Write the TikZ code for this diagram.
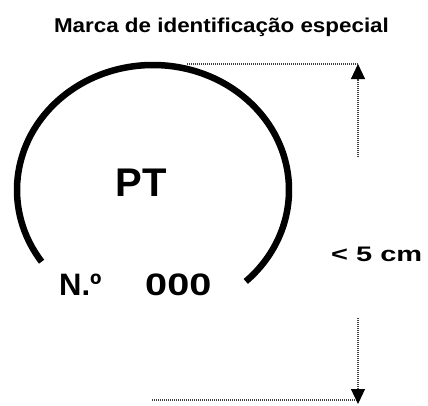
\documentclass[tikz,border=0pt]{standalone}
\usepackage{fontspec}
\setmainfont{Liberation Sans}
\newfontfamily\titlefont[FakeStretch=1.12]{Liberation Sans}
\newfontfamily\numfont[FakeStretch=1.28]{Liberation Sans}
\newfontfamily\dimfont[FakeStretch=1.38]{Liberation Sans}
\usetikzlibrary{arrows.meta}
\begin{document}
\begin{tikzpicture}[x=1pt,y=1pt,
  lbl/.style={inner sep=0pt, anchor=base},
  lblw/.style={inner sep=0pt, anchor=base west},
  ring/.style={line width=6.5pt, draw=black},
  dim/.style={line width=1.2pt, draw=black!75, dash pattern=on 1pt off 1pt},
  tipend/.style={-{Triangle[width=14pt,length=15pt,color=black]}}]
\useasboundingbox (0,0) rectangle (428,-405);
% title
\node[lbl, font=\titlefont\bfseries\fontsize{20}{22}\selectfont] (title) at (221.5,-32) {Marca de identificação especial};
% arc
\coordinate (ec) at (153,-190);
\draw[ring] (ec) ++(-47:136pt and 125pt) arc[start angle=-47, end angle=215, x radius=136pt, y radius=125pt];
% texts inside
\node[lbl, font=\bfseries\fontsize{40}{44}\selectfont] (pt) at (141,-196.7) {PT};
\node[lblw, font=\bfseries\fontsize{31}{34}\selectfont] (no) at (59,-295) {N.º};
\node[lblw, font=\numfont\bfseries\fontsize{31}{34}\selectfont] (num) at (145,-295) {000};
% dimension
\coordinate (topL) at (187,-64);
\coordinate (topR) at (358,-64);
\coordinate (upS) at (358,-157);
\coordinate (botS) at (358,-318);
\coordinate (botR) at (358,-400);
\coordinate (botTip) at (358,-404);
\coordinate (botL) at (152,-400);
\draw[dim] (topL) -- (topR);
\draw[dim, tipend] (upS) -- (topR);
\draw[dim] (botL) -- (botR);
\draw[dim, tipend] (botS) -- (botTip);
\node[lblw, font=\dimfont\bfseries\fontsize{21}{23}\selectfont] (dimlbl) at (331,-261.5) {< 5 cm};
\end{tikzpicture}
\end{document}
